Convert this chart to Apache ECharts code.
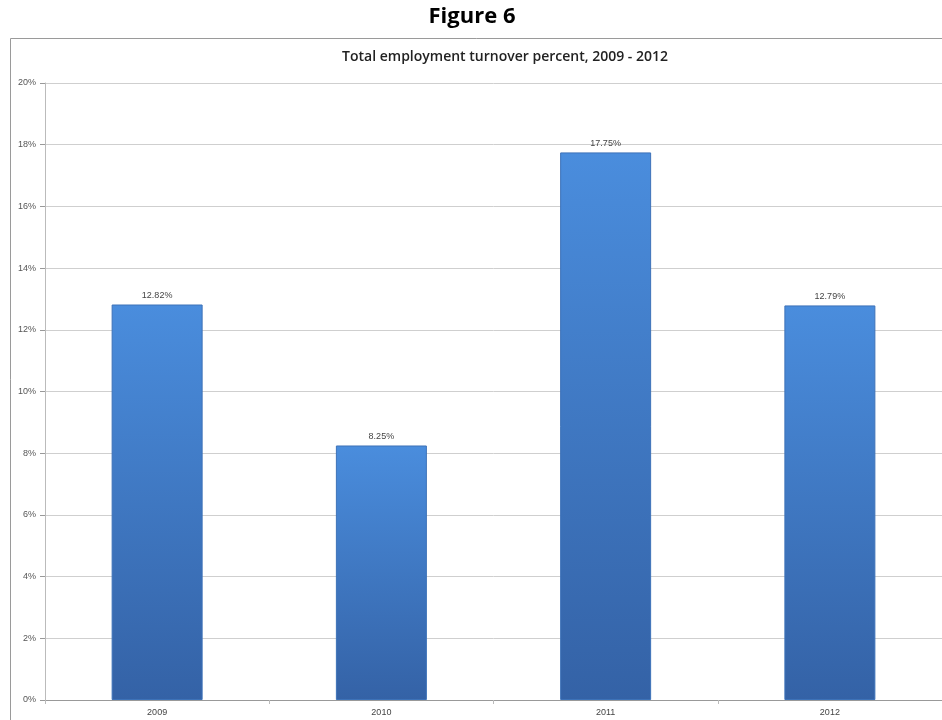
<!DOCTYPE html>
<html>
<head>
<meta charset="utf-8">
<script src="https://cdn.jsdelivr.net/npm/echarts@6/dist/echarts.min.js"></script>
<style>
html,body{margin:0;padding:0;background:#fff;}
#chart{width:942px;height:720px;}
</style>
</head>
<body>
<div id="chart"></div>
<script>
var categories = ['2009', '2010', '2011', '2012'];
var turnover = [12.82, 8.25, 17.75, 12.79];
var yTicks = [0, 2, 4, 6, 8, 10, 12, 14, 16, 18, 20];

var chart = echarts.init(document.getElementById('chart'));
chart.setOption({
  backgroundColor: '#ffffff',
  animation: false,
  graphic: [
    {type: 'rect', z: -1, shape: {x: 10.5, y: 38.5, width: 1000, height: 700},
     style: {fill: '#ffffff', stroke: '#9a9a9a', lineWidth: 1}},
    {type: 'text', x: 472, y: 6,
     style: {text: 'Figure 6', textAlign: 'center',
       font: 'bold 22px "Open Sans", "DejaVu Sans", sans-serif', fill: '#000'}},
    {type: 'text', x: 505, y: 50,
     style: {text: 'Total employment turnover percent, 2009 - 2012', textAlign: 'center',
       font: '600 14px "Open Sans", "DejaVu Sans", sans-serif', fill: '#222'}}
  ],
  grid: {left: 45, top: 83, width: 900, height: 617, containLabel: false},
  xAxis: {
    type: 'category',
    data: categories,
    boundaryGap: true,
    axisLine: {lineStyle: {color: '#999'}},
    axisTick: {show: true, length: 4, lineStyle: {color: '#bbb'}},
    axisLabel: {color: '#444', fontSize: 9, margin: 8, fontFamily: 'Liberation Sans'}
  },
  yAxis: {
    type: 'value',
    min: yTicks[0], max: yTicks[yTicks.length - 1], interval: 2,
    axisLine: {show: true, lineStyle: {color: '#bbb'}},
    axisTick: {show: true, length: 5, lineStyle: {color: '#999'}},
    axisLabel: {formatter: '{value}%', color: '#555', fontSize: 9, margin: 9, fontFamily: 'Liberation Sans'},
    splitLine: {lineStyle: {color: '#cfcfcf'}}
  },
  series: [{
    type: 'bar',
    data: turnover,
    barWidth: 91,
    itemStyle: {
      color: new echarts.graphic.LinearGradient(0, 0, 0, 1, [
        {offset: 0, color: '#4a8ddd'},
        {offset: 1, color: '#3462a6'}
      ]),
      borderColor: '#3d72b8',
      borderWidth: 1
    },
    label: {
      show: true, position: 'top', distance: 4,
      formatter: function (p) { return p.value.toFixed(2) + '%'; },
      color: '#444', fontSize: 9, fontFamily: 'Liberation Sans'
    }
  }]
});
</script>
</body>
</html>
